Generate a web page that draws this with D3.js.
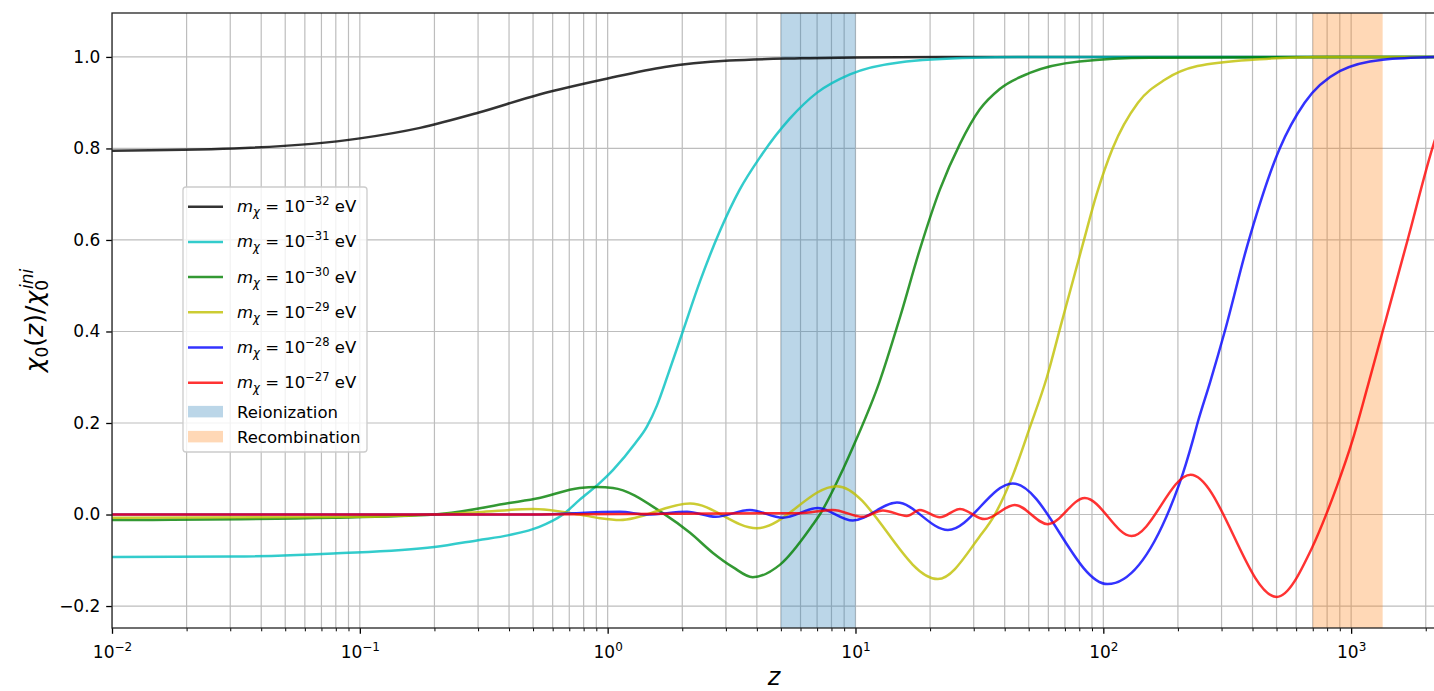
<!DOCTYPE html>
<html>
<head>
<meta charset="utf-8">
<script src="https://cdn.jsdelivr.net/npm/d3@7"></script>
<style>
  body { margin: 0; background: #fff; }
  svg text { font-family: 'DejaVu Sans', sans-serif; fill: #000; }
</style>
</head>
<body>
<div id="chart"></div>
<script>
// values (z, chi0/chi0_ini)
const zBlack = [0.01, 0.031, 0.1, 0.175, 0.3, 0.53, 1, 1.7, 3.1, 6, 10, 100, 2200]
const vBlack = [0.795, 0.8, 0.822, 0.845, 0.878, 0.918, 0.953, 0.978, 0.992, 0.997, 0.999, 1.0, 1.0]

const zCyan = [0.01, 0.031, 0.078, 0.2, 0.3, 0.4, 0.53, 0.66, 0.77, 0.93, 1.05, 1.29, 1.44, 1.58, 1.75, 2.01, 2.36, 2.84, 3.41, 4.11, 5.43, 7.0, 9.5, 15, 30, 60, 2200]
const vCyan = [-0.093, -0.092, -0.085, -0.071, -0.056, -0.045, -0.027, 0.0, 0.032, 0.069, 0.097, 0.155, 0.192, 0.238, 0.305, 0.4, 0.51, 0.62, 0.71, 0.78, 0.865, 0.922, 0.962, 0.988, 0.998, 1.0, 1.0]

const zGreen = [0.01, 0.078, 0.2, 0.4, 0.53, 0.77, 0.91, 1.05, 1.67, 2.15, 2.66, 3.2, 3.85, 4.95, 6.73, 7.18, 8.89, 10, 12.5, 15.1, 18.2, 21.9, 26.4, 31.7, 38.2, 50.5, 80, 154, 2200]
const vGreen = [-0.012, -0.007, 0.0, 0.025, 0.036, 0.058, 0.06, 0.058, 0.003, -0.04, -0.084, -0.115, -0.137, -0.11, -0.022, 0.0, 0.098, 0.16, 0.29, 0.43, 0.58, 0.71, 0.81, 0.885, 0.93, 0.965, 0.99, 0.998, 1.0]

const zYellow = [0.01, 0.1, 0.3, 0.5, 0.77, 0.93, 1.12, 2.15, 4.0, 8.41, 21.5, 31.7, 36.5, 43.1, 50.5, 59.2, 67.9, 82.6, 94, 109, 138, 177, 240, 428, 750, 2200]
const vYellow = [-0.007, -0.005, 0.005, 0.012, 0.0, -0.008, -0.012, 0.024, -0.03, 0.062, -0.141, -0.048, 0.0, 0.085, 0.19, 0.3, 0.42, 0.59, 0.7, 0.8, 0.9, 0.95, 0.98, 0.995, 1.0, 1.0]

const zBlue = [0.01, 0.5, 1.12, 1.44, 2.09, 2.73, 3.75, 5.09, 7.05, 9.75, 14.7, 23.6, 43.1, 104, 203, 230, 240, 270, 309, 382, 515, 649, 899, 1340, 2200]
const vBlue = [0.0, 0.0, 0.006, 0.0, 0.006, -0.005, 0.01, -0.007, 0.014, -0.013, 0.026, -0.034, 0.068, -0.152, 0.068, 0.163, 0.2, 0.29, 0.4, 0.59, 0.8, 0.9, 0.969, 0.994, 1.0]

const zRed = [0.01, 0.5, 5.96, 8.09, 10.7, 12.9, 16.1, 18.2, 21.9, 26.4, 33.2, 43.9, 59.7, 84.2, 130, 225, 501, 699, 797, 875, 1014, 1166, 1340, 1690, 2153, 2200]
const vRed = [0.0, 0.0, 0.003, 0.01, -0.005, 0.009, -0.003, 0.01, -0.006, 0.012, -0.01, 0.021, -0.021, 0.036, -0.047, 0.087, -0.18, -0.07, 0.003, 0.061, 0.163, 0.28, 0.4, 0.6, 0.81, 0.826]

const seriesLabels = ['−32', '−31', '−30', '−29', '−28', '−27']
const seriesColors = ['#000000', '#00bfbf', '#008000', '#bfbf00', '#0000ff', '#ff0000']
const seriesData = [
  [zBlack, vBlack], [zCyan, vCyan], [zGreen, vGreen],
  [zYellow, vYellow], [zBlue, vBlue], [zRed, vRed]
]

const bandNames = ['Reionization', 'Recombination']
const bandRanges = [[5, 10], [700, 1340]]
const bandColors = ['#1f77b4', '#ff7f0e']

const xDomain = [0.01, 2200]
const yDomain = [-0.248, 1.096]
const xMajorTicks = [0.01, 0.1, 1, 10, 100, 1000]
const yTicks = [-0.2, 0.0, 0.2, 0.4, 0.6, 0.8, 1.0]

const W = 1434
const H = 691
const margin = { top: 13, right: -2, bottom: 63, left: 112 }

const svg = d3.select('#chart').append('svg')
  .attr('width', W)
  .attr('height', H)

const x = d3.scaleLog().domain(xDomain).range([margin.left, W - margin.right])
const y = d3.scaleLinear().domain(yDomain).range([H - margin.bottom, margin.top])

const x0 = x.range()[0]
const x1 = x.range()[1]
const y0 = y.range()[0]
const y1 = y.range()[1]

svg.append('defs').append('clipPath').attr('id', 'plot-clip')
  .append('rect')
  .attr('x', x0).attr('y', y1)
  .attr('width', x1 - x0).attr('height', y0 - y1)

// grid
const xAllTicks = x.ticks().filter(t => t >= xDomain[0] && t <= xDomain[1])
const grid = svg.append('g').attr('clip-path', 'url(#plot-clip)')
grid.selectAll('line.gx')
  .data(xAllTicks)
  .enter().append('line')
  .attr('class', 'gx')
  .attr('x1', d => x(d)).attr('x2', d => x(d))
  .attr('y1', y1).attr('y2', y0)
  .attr('stroke', '#bdbdbd')
  .attr('stroke-width', 1.2)
grid.selectAll('line.gy')
  .data(yTicks)
  .enter().append('line')
  .attr('class', 'gy')
  .attr('x1', x0).attr('x2', x1)
  .attr('y1', d => y(d)).attr('y2', d => y(d))
  .attr('stroke', '#bdbdbd')
  .attr('stroke-width', 1.2)

// shaded bands
const plot = svg.append('g').attr('clip-path', 'url(#plot-clip)')
plot.selectAll('rect.band')
  .data(bandRanges)
  .enter().append('rect')
  .attr('class', 'band')
  .attr('x', d => x(d[0]))
  .attr('width', d => x(d[1]) - x(d[0]))
  .attr('y', y1)
  .attr('height', y0 - y1)
  .attr('fill', (d, i) => bandColors[i])
  .attr('fill-opacity', 0.3)

// curves
const line = d3.line()
  .x(d => x(d[0]))
  .y(d => y(d[1]))
  .curve(d3.curveMonotoneX)

seriesData.forEach((s, i) => {
  plot.append('path')
    .datum(d3.zip(s[0], s[1]))
    .attr('d', line)
    .attr('fill', 'none')
    .attr('stroke', seriesColors[i])
    .attr('stroke-opacity', 0.8)
    .attr('stroke-width', 2.5)
})

// axes
const xAxis = svg.append('g')
  .attr('transform', `translate(0,${y0})`)
  .call(d3.axisBottom(x).tickValues(xMajorTicks).tickSize(5.8).tickPadding(5.8).tickFormat(''))
xAxis.select('.domain').remove()
xAxis.selectAll('.tick line').attr('stroke', '#000').attr('stroke-width', 1.3)

const xMinor = svg.append('g')
  .attr('transform', `translate(0,${y0})`)
  .call(d3.axisBottom(x).tickValues(xAllTicks.filter(t => !xMajorTicks.includes(t))).tickSize(3.3).tickFormat(''))
xMinor.select('.domain').remove()
xMinor.selectAll('.tick line').attr('stroke', '#000').attr('stroke-width', 1)

xAxis.selectAll('.tick').each(function (d) {
  const e = Math.round(Math.log10(d))
  const t = d3.select(this).append('text')
    .attr('y', 30)
    .attr('text-anchor', 'middle')
    .style('font-size', '17px')
  t.append('tspan').text('10')
  t.append('tspan').attr('dy', -7).style('font-size', '12px')
    .text(e < 0 ? '−' + (-e) : String(e))
})

const yAxis = svg.append('g')
  .attr('transform', `translate(${x0},0)`)
  .call(d3.axisLeft(y).tickValues(yTicks).tickSize(5.8).tickPadding(5.8).tickFormat(d3.format('.1f')))
yAxis.select('.domain').remove()
yAxis.selectAll('.tick line').attr('stroke', '#000').attr('stroke-width', 1.3)
yAxis.selectAll('.tick text')
  .style('font-size', '17px')
  .style('font-family', "'DejaVu Sans', sans-serif")
  .attr('fill', '#000')

// spines
svg.append('rect')
  .attr('x', x0).attr('y', y1)
  .attr('width', x1 - x0).attr('height', y0 - y1)
  .attr('fill', 'none')
  .attr('stroke', '#222')
  .attr('stroke-width', 1.3)

// axis labels
svg.append('text')
  .attr('x', (x0 + x1) / 2)
  .attr('y', 685)
  .attr('text-anchor', 'middle')
  .style('font-size', '24px')
  .style('font-style', 'italic')
  .text('z')

const yl = svg.append('text')
  .attr('transform', `translate(43,${(y0 + y1) / 2}) rotate(-90)`)
  .attr('text-anchor', 'middle')
  .style('font-size', '25px')
yl.append('tspan').style('font-style', 'italic').text('χ')
yl.append('tspan').attr('dy', 5).style('font-size', '17px').text('0')
yl.append('tspan').attr('dy', -5).text('(')
yl.append('tspan').style('font-style', 'italic').text('z')
yl.append('tspan').text(')/')
yl.append('tspan').style('font-style', 'italic').text('χ')
yl.append('tspan').attr('dy', 5).style('font-size', '17px').text('0')
yl.append('tspan').attr('dx', -9).attr('dy', -15).style('font-size', '17px').style('font-style', 'italic').text('ini')

// legend
const legend = svg.append('g')
legend.append('rect')
  .attr('x', 183).attr('y', 187)
  .attr('width', 184).attr('height', 265)
  .attr('rx', 3)
  .attr('fill', '#fff')
  .attr('fill-opacity', 0.8)
  .attr('stroke', '#cccccc')
  .attr('stroke-width', 1.3)

seriesLabels.forEach((lab, i) => {
  const cy = 206.7 + i * 35.2
  legend.append('line')
    .attr('x1', 188).attr('x2', 223)
    .attr('y1', cy).attr('y2', cy)
    .attr('stroke', seriesColors[i])
    .attr('stroke-opacity', 0.8)
    .attr('stroke-width', 2.5)
  const t = legend.append('text')
    .attr('x', 237).attr('y', cy + 5.5)
    .style('font-size', '16.5px')
  t.append('tspan').style('font-style', 'italic').text('m')
  t.append('tspan').attr('dy', 4).style('font-size', '11.5px').style('font-style', 'italic').text('χ')
  t.append('tspan').attr('dy', -4).text(' = 10')
  t.append('tspan').attr('dy', -7).style('font-size', '11.5px').text(lab)
  t.append('tspan').attr('dy', 7).text(' eV')
})

bandNames.forEach((name, i) => {
  const cy = 411.7 + i * 25
  legend.append('rect')
    .attr('x', 188).attr('y', cy - 5.8)
    .attr('width', 35).attr('height', 11.5)
    .attr('fill', bandColors[i])
    .attr('fill-opacity', 0.3)
  legend.append('text')
    .attr('x', 237).attr('y', cy + 5.8)
    .style('font-size', '16.5px')
    .text(name)
})
</script>
</body>
</html>
